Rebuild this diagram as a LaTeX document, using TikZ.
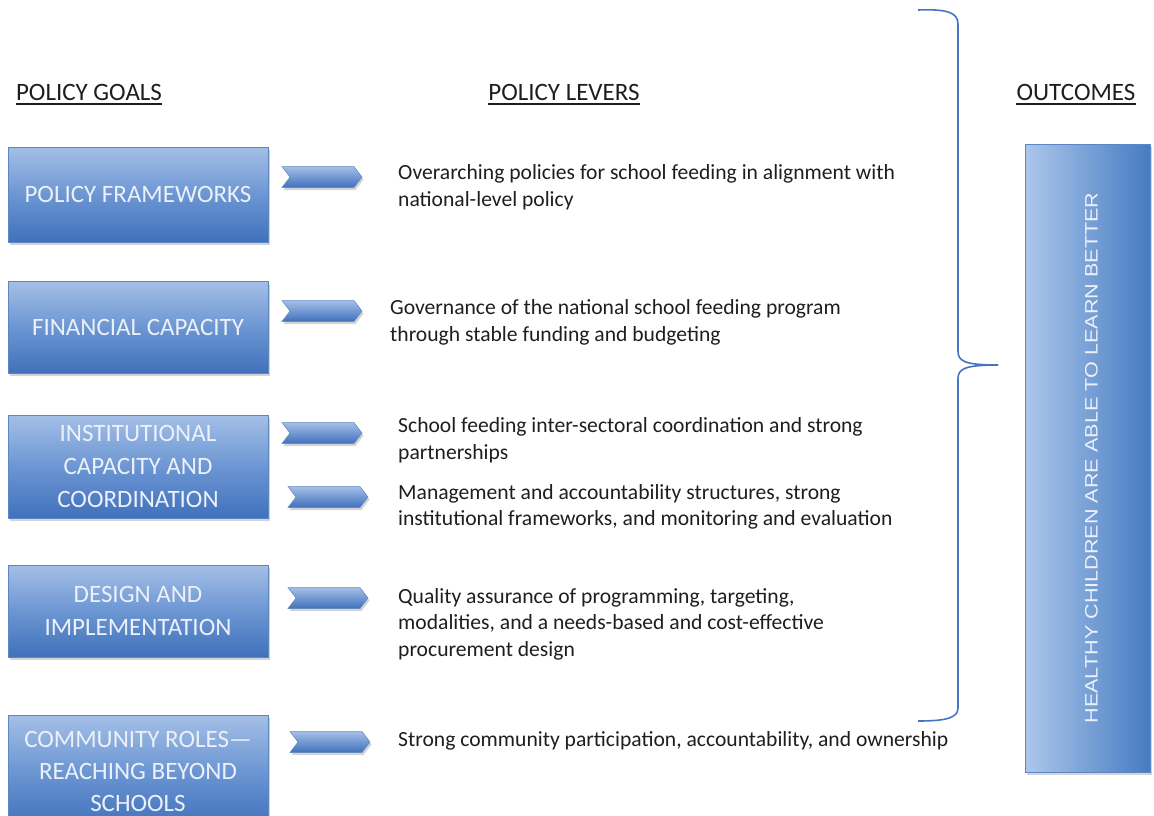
\documentclass[tikz,border=0pt]{standalone}
\usepackage{fontspec}
\setmainfont{Carlito}
\newfontfamily\outcomefont[FakeStretch=1.2]{Liberation Sans}
\usetikzlibrary{shapes.symbols, shadows, positioning}

\definecolor{goaltop}{RGB}{164,191,230}
\definecolor{goalmid}{RGB}{108,150,211}
\definecolor{goalbot}{RGB}{64,113,188}
\definecolor{goaledge}{RGB}{92,134,196}
\definecolor{goaltext}{RGB}{236,241,249}
\definecolor{outleft}{RGB}{172,199,235}
\definecolor{outright}{RGB}{70,123,194}
\definecolor{bracecol}{RGB}{70,116,196}
\definecolor{levertext}{RGB}{30,30,30}

\begin{document}
\begin{tikzpicture}[x=1pt, y=-1pt,
        goal/.style={draw=goaledge, line width=0.8pt, top color=goaltop, bottom color=goalbot, middle color=goalmid,
            minimum width=260pt, minimum height=95pt, align=center, text=goaltext,
            font=\fontsize{25}{33}\selectfont, drop shadow={shadow xshift=2pt, shadow yshift=-3pt, opacity=0.35}},
        chev/.style={signal, signal to=east, signal from=west, signal pointer angle=105,
            draw=goaledge, line width=0.5pt, top color=goaltop, bottom color=goalbot,
            minimum width=80pt, minimum height=21pt, inner sep=0pt,
            drop shadow={shadow xshift=1.5pt, shadow yshift=-2.5pt, opacity=0.35}},
        lever/.style={anchor=west, align=left, inner sep=0pt, text=levertext, font=\fontsize{21.6}{26.5}\selectfont},
        head/.style={inner sep=0pt, text=levertext, font=\fontsize{25}{30}\selectfont},
        hline/.style={line width=1.8pt, levertext},
        brace/.style={draw=bracecol, line width=1.6pt}
    ]
        \useasboundingbox (0,0) rectangle (1154,816);

        % column headings
        \node[head] (goalshead) at (89,92) {POLICY GOALS};
        \node[head] (levershead) at (564,92) {POLICY LEVERS};
        \node[head] (outhead) at (1076,92) {OUTCOMES};
        \draw[hline] ([yshift=-4pt]goalshead.base west) -- ([yshift=-4pt]goalshead.base east);
        \draw[hline] ([yshift=-4pt]levershead.base west) -- ([yshift=-4pt]levershead.base east);
        \draw[hline] ([yshift=-4pt]outhead.base west) -- ([yshift=-4pt]outhead.base east);

        % policy goals
        \node[goal] (frameworks) at (138,194.5) {POLICY FRAMEWORKS};
        \node[goal, minimum height=92pt] (financial) at (138,327) {FINANCIAL CAPACITY};
        \node[goal, minimum height=103pt] (institutional) at (138,466.5) {INSTITUTIONAL\\CAPACITY AND\\COORDINATION};
        \node[goal, minimum height=92pt] (design) at (138,611) {DESIGN AND\\IMPLEMENTATION};
        \node[goal, minimum height=112pt, font=\fontsize{25}{32}\selectfont] (community) at (138,771) {COMMUNITY ROLES---\\REACHING BEYOND\\SCHOOLS};

        % chevrons
        \node[chev] (chframeworks) at (322,177) {};
        \node[chev] (chfinancial) at (322,311) {};
        \node[chev] (chinstA) at (322,433) {};
        \node[chev] (chinstB) at (328,497) {};
        \node[chev] (chdesign) at (328,598) {};
        \node[chev] (chcommunity) at (330,742) {};

        % policy levers
        \node[lever] (levframeworks) at (398,187) {Overarching policies for school feeding in alignment with\\national-level policy};
        \node[lever] (levfinancial) at (390,322.5) {Governance of the national school feeding program\\through stable funding and budgeting};
        \node[lever] (levinstA) at (398,440) {School feeding inter-sectoral coordination and strong\\partnerships};
        \node[lever] (levinstB) at (398,507) {Management and accountability structures, strong\\institutional frameworks, and monitoring and evaluation};
        \node[lever] (levdesign) at (398,624) {Quality assurance of programming, targeting,\\modalities, and a needs-based and cost-effective\\procurement design};
        \node[lever] (levcommunity) at (398,741) {Strong community participation, accountability, and ownership};

        % brace
        \coordinate (bracetop) at (918,10);
        \coordinate (bracetip) at (998,365);
        \coordinate (bracebot) at (918,721);
        \draw[brace] (bracetop) .. controls (946,9) and (958,12) .. (958,24) -- (958,351)
            .. controls (958,361) and (964,365) .. (bracetip);
        \draw[brace] (bracetip) .. controls (964,365) and (958,369) .. (958,379) -- (958,708)
            .. controls (958,718) and (946,721) .. (bracebot);

        % outcome
        \node[draw=goaledge, line width=0.8pt, left color=outleft, right color=outright,
            minimum width=125pt, minimum height=628pt, inner sep=0pt,
            drop shadow={shadow xshift=2pt, shadow yshift=-3pt, opacity=0.35}] (outcome) at (1087.5,458) {};
        \node[rotate=90, text=goaltext, inner sep=0pt, font=\outcomefont\fontsize{18}{22}\selectfont]
            (outtext) at ([xshift=4pt]outcome.center) {HEALTHY CHILDREN ARE ABLE TO LEARN BETTER};
    \end{tikzpicture}
\end{document}
